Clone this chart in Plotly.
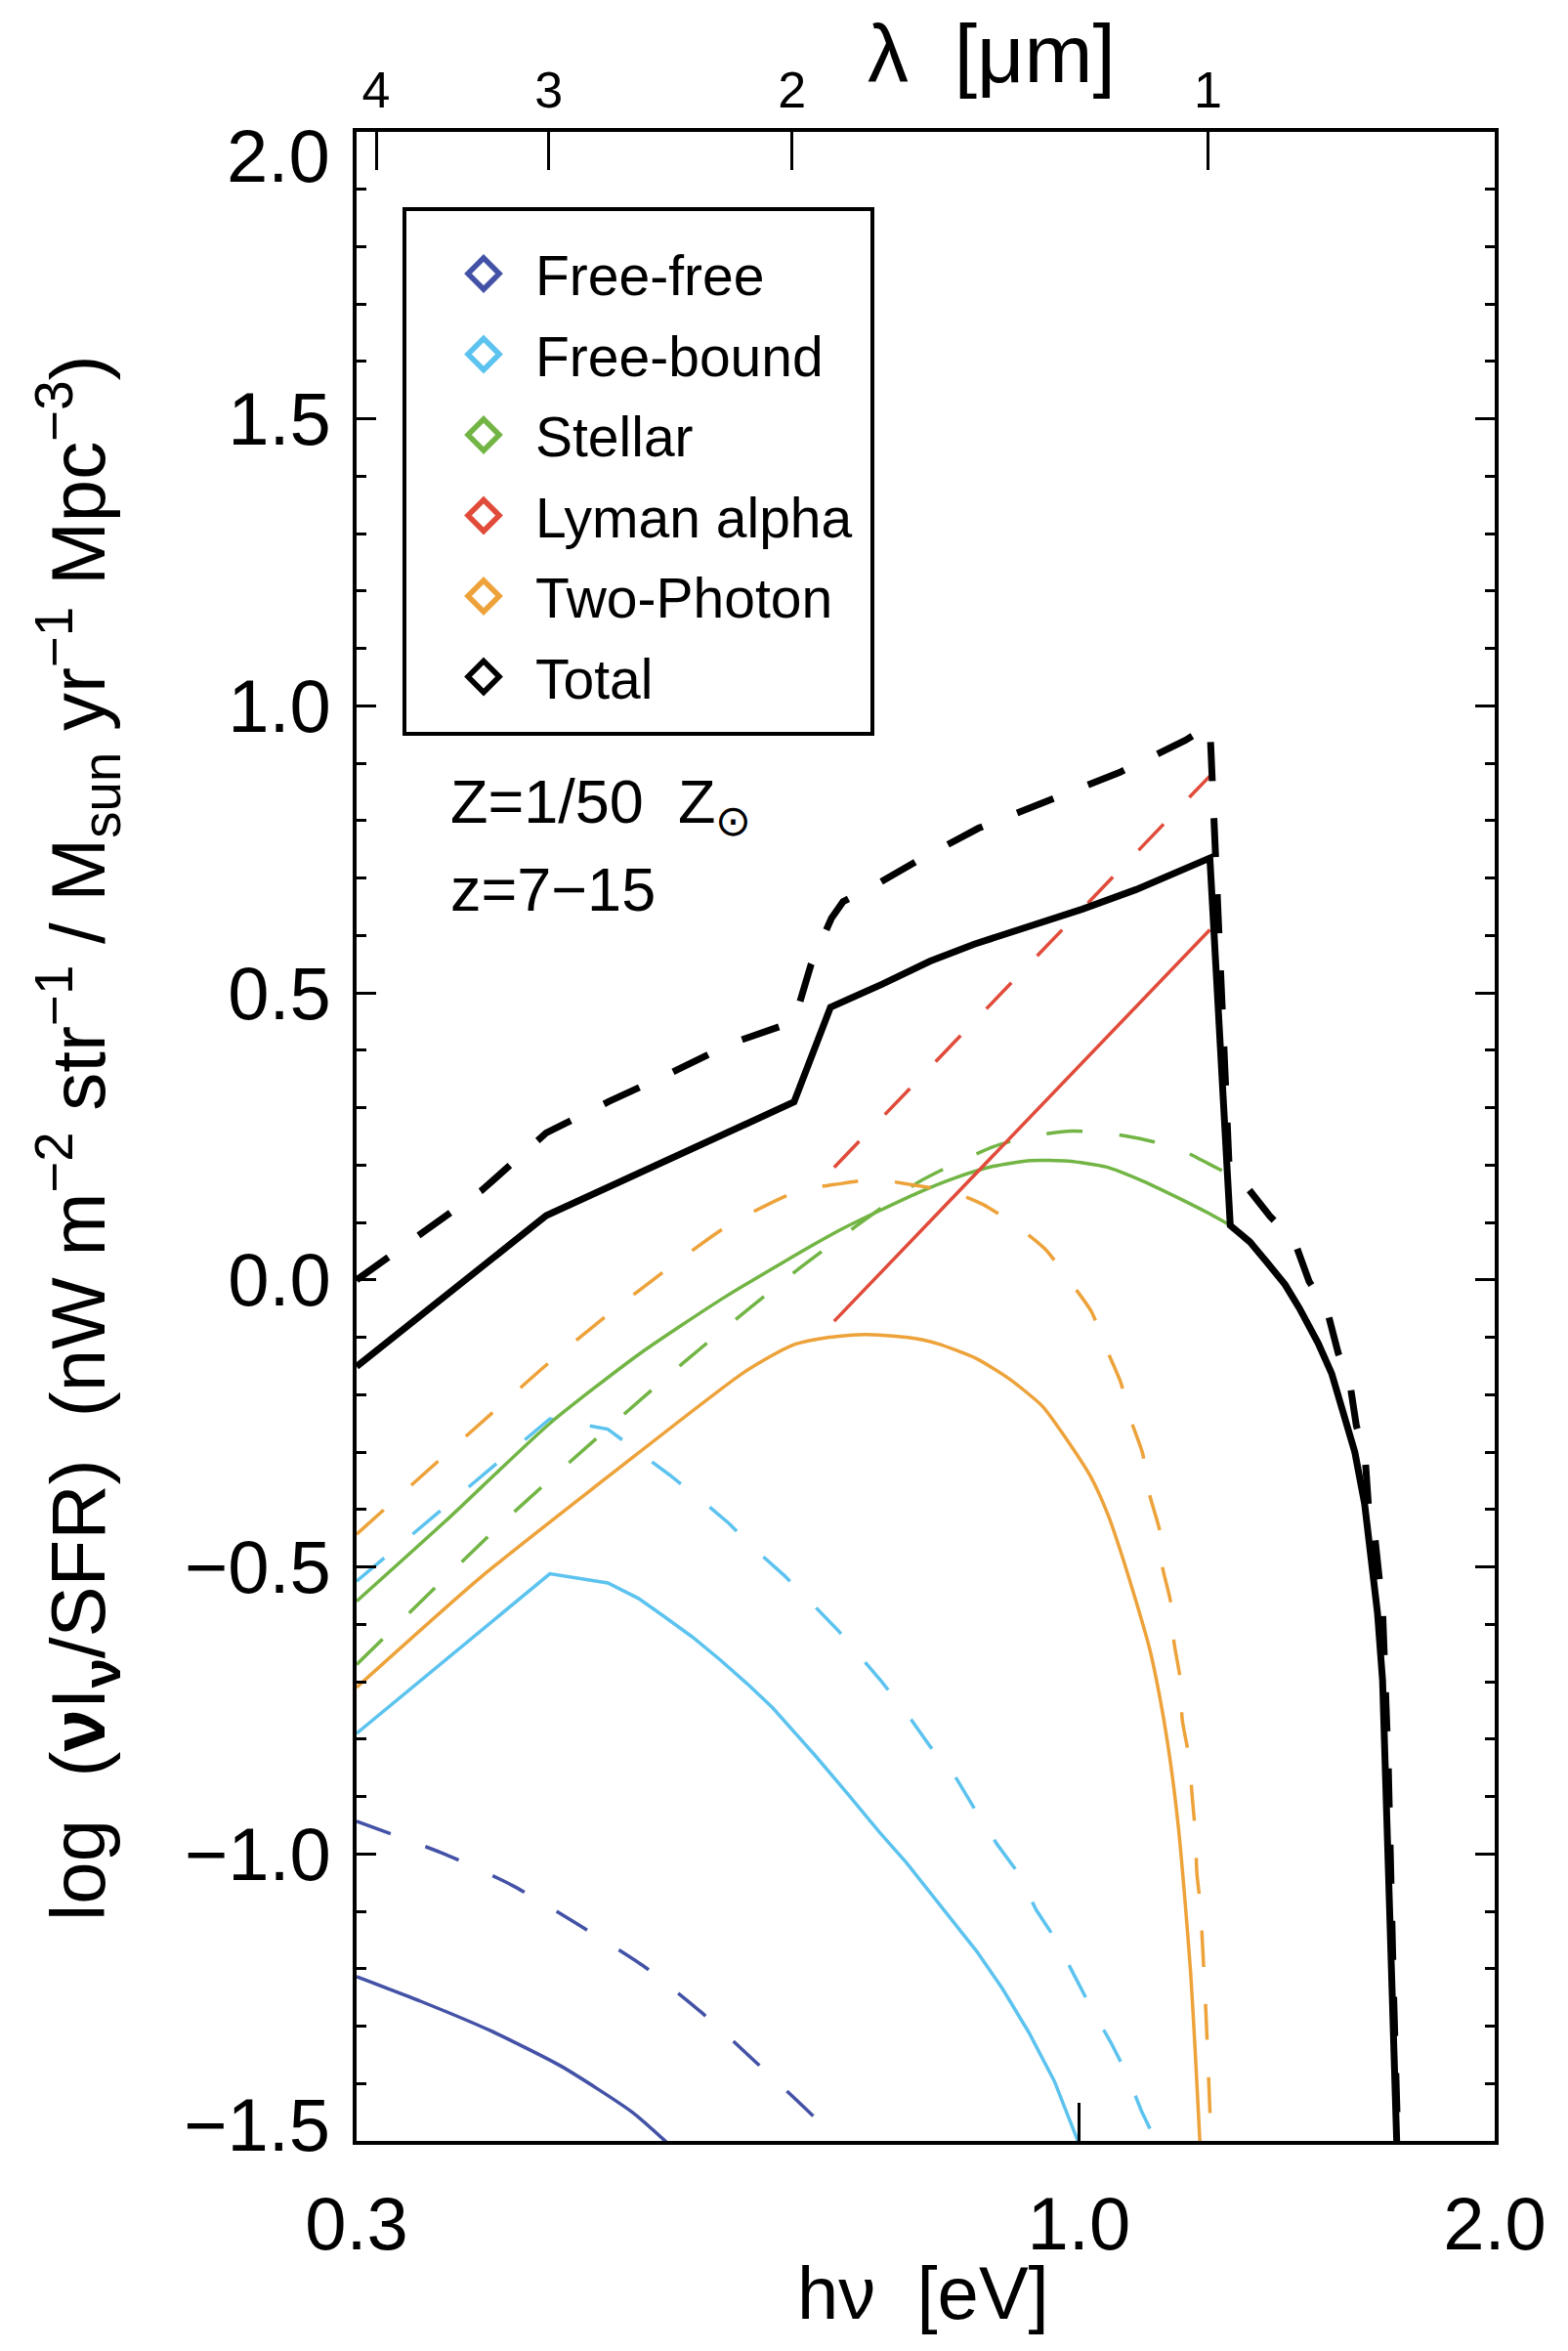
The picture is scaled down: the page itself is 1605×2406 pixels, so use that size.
import plotly.graph_objects as go

# ---------------- data (photon energy h nu in eV, log(nu I_nu / SFR)) ----------------
ff_solid_E = [0.3, 0.334, 0.375, 0.422, 0.475, 0.507]
ff_solid_y = [-1.214, -1.257, -1.308, -1.370, -1.450, -1.51]
ff_dash_E = [0.3, 0.348, 0.389, 0.434, 0.485, 0.533, 0.585, 0.643, 0.672]
ff_dash_y = [-0.943, -1.001, -1.055, -1.123, -1.197, -1.276, -1.365, -1.458, -1.51]

fb_solid_E = [0.3, 0.414, 0.456, 0.48, 0.50, 0.525, 0.55, 0.575, 0.60, 0.644, 0.68, 0.717, 0.75, 0.78,
              0.81, 0.843, 0.88, 0.92, 0.96, 1.002]
fb_solid_y = [-0.79, -0.512, -0.528, -0.555, -0.585, -0.622, -0.662, -0.703, -0.745, -0.828, -0.895, -0.962,
              -1.015, -1.066, -1.115, -1.169, -1.234, -1.311, -1.396, -1.51]
fb_dash_E = [0.3, 0.414, 0.456, 0.48, 0.505, 0.534, 0.558, 0.585, 0.612, 0.641, 0.669, 0.72,
             0.756, 0.78, 0.816, 0.843, 0.873, 0.905, 0.931, 0.962, 0.994, 1.02, 1.055, 1.082, 1.11, 1.142]
fb_dash_y = [-0.525, -0.242, -0.26, -0.300, -0.339, -0.385, -0.424, -0.473, -0.515, -0.564, -0.610, -0.70,
             -0.766, -0.812, -0.870, -0.927, -0.984, -1.035, -1.097, -1.149, -1.216, -1.267, -1.329, -1.381, -1.448, -1.51]

st_solid_E = [0.3, 0.348, 0.414, 0.48, 0.555, 0.669, 0.765, 0.814, 0.867, 0.923, 0.982, 1.046, 1.113, 1.18, 1.244, 1.287]
st_solid_y = [-0.56, -0.42, -0.25, -0.13, -0.029, 0.085, 0.152, 0.178, 0.198, 0.208, 0.207, 0.197, 0.172, 0.143, 0.115, 0.095]
st_dash_E = [0.3, 0.389, 0.518, 0.629, 0.765, 0.814, 0.867, 0.917, 0.982, 1.04, 1.113, 1.18, 1.24, 1.284]
st_dash_y = [-0.67, -0.407, -0.143, 0.022, 0.170, 0.203, 0.232, 0.249, 0.259, 0.257, 0.245, 0.229, 0.203, 0.184]

lya_solid_E = [0.665, 1.244]
lya_solid_y = [-0.072, 0.610]
lya_dash_E = [0.665, 1.244]
lya_dash_y = [0.196, 0.878]

tp_solid_E = [0.3, 0.369, 0.46, 0.573, 0.62, 0.66, 0.70, 0.75, 0.79, 0.843, 0.89, 0.941, 0.98, 1.020, 1.05,
              1.077, 1.10, 1.125, 1.145, 1.163, 1.18, 1.194, 1.205, 1.214, 1.224]
tp_solid_y = [-0.71, -0.518, -0.336, -0.160, -0.114, -0.100, -0.095, -0.100, -0.111, -0.137, -0.172, -0.220,
              -0.278, -0.343, -0.410, -0.488, -0.56, -0.642, -0.73, -0.829, -0.95, -1.087, -1.21, -1.345, -1.51]
tp_dash_E = [0.3, 0.3436, 0.376, 0.414, 0.457, 0.506, 0.56, 0.629, 0.665, 0.713, 0.755, 0.808, 0.853, 0.9,
             0.946, 0.982, 1.021, 1.045, 1.072, 1.089, 1.112, 1.125, 1.144, 1.149, 1.165, 1.172, 1.184, 1.188,
             1.201, 1.208, 1.214, 1.2175, 1.224, 1.236, 1.247]
tp_dash_y = [-0.443, -0.316, -0.232, -0.143, -0.059, 0.023, 0.098, 0.157, 0.166, 0.175, 0.166, 0.154, 0.131, 0.095,
             0.053, 0.002, -0.055, -0.116, -0.178, -0.240, -0.302, -0.374, -0.436, -0.498, -0.560, -0.632, -0.695,
             -0.766, -0.829, -0.901, -0.962, -1.035, -1.087, -1.28, -1.51]

tot_solid_E = [0.3, 0.4115, 0.622, 0.661, 0.72, 0.78, 0.84, 0.92, 1.006, 1.10, 1.18, 1.244, 1.287, 1.33, 1.368,
               1.41, 1.444, 1.49, 1.524, 1.56, 1.584, 1.61, 1.626, 1.645, 1.659, 1.672, 1.686, 1.70]
tot_solid_y = [-0.151, 0.112, 0.310, 0.475, 0.515, 0.555, 0.585, 0.615, 0.646, 0.68, 0.71, 0.735, 0.095, 0.066,
               0.031, -0.008, -0.049, -0.11, -0.163, -0.24, -0.300, -0.39, -0.470, -0.58, -0.698, -0.985, -1.269, -1.53]
tot_dash_E = [0.3, 0.333, 0.37, 0.4115, 0.457, 0.505, 0.56, 0.622, 0.64, 0.662, 0.675, 0.717, 0.765, 0.846, 0.948,
              1.07, 1.194, 1.244, 1.285, 1.316, 1.375, 1.433, 1.468, 1.511, 1.541, 1.571, 1.588, 1.611, 1.62, 1.637,
              1.659, 1.675, 1.69, 1.703]
tot_dash_y = [0.0, 0.078, 0.157, 0.256, 0.311, 0.359, 0.412, 0.45, 0.55, 0.63, 0.659, 0.692, 0.731, 0.787, 0.835,
              0.884, 0.940, 0.966, 0.19, 0.169, 0.111, 0.066, -0.003, -0.049, -0.128, -0.18, -0.254, -0.305, -0.39,
              -0.443, -0.574, -0.85, -1.25, -1.53]

series_names = ["Free-free", "Free-bound", "Stellar", "Lyman alpha", "Two-Photon", "Total"]
series_colors = ["#4352a6", "#5cc3ef", "#72b545", "#e04b3a", "#eda23a", "#000000"]

x_ticks = [0.3, 1.0, 2.0]
x_ticktext = ["0.3", "1.0", "2.0"]
lam_ticks = [4, 3, 2, 1]            # micron
y_ticks = [-1.5, -1.0, -0.5, 0.0, 0.5, 1.0, 1.5, 2.0]
y_ticktext = ["\u22121.5", "\u22121.0", "\u22120.5", "0.0", "0.5", "1.0", "1.5", "2.0"]

HC = 1.2398  # eV micron

# ---------------- figure ----------------
OFF = 8                      # page body margin
W, H = 1605 - 2 * OFF, 2406 - 2 * OFF
L, R, T, B = 365, 1530, 135, 2191   # plot area in page pixels
FONT = "Liberation Sans, Arial, Helvetica, sans-serif"


def px(x):
    return (x - L) / (R - L)


def py(y):
    return (B - y) / (B - T)


fig = go.Figure()

curves = [
    (ff_solid_E, ff_solid_y, 0, "solid", "spline"), (ff_dash_E, ff_dash_y, 0, "dash", "spline"),
    (fb_solid_E, fb_solid_y, 1, "solid", "linear"), (fb_dash_E, fb_dash_y, 1, "dash", "linear"),
    (st_solid_E, st_solid_y, 2, "solid", "spline"), (st_dash_E, st_dash_y, 2, "dash", "spline"),
    (lya_solid_E, lya_solid_y, 3, "solid", "linear"), (lya_dash_E, lya_dash_y, 3, "dash", "linear"),
    (tp_solid_E, tp_solid_y, 4, "solid", "spline"), (tp_dash_E, tp_dash_y, 4, "dash", "spline"),
    (tot_solid_E, tot_solid_y, 5, "solid", "linear"), (tot_dash_E, tot_dash_y, 5, "dash", "linear"),
]
for xe, yv, idx, style, shape in curves:
    black = idx == 5
    fig.add_trace(go.Scatter(
        x=xe, y=yv, mode="lines", showlegend=False, hoverinfo="skip", name=series_names[idx],
        line=dict(color=series_colors[idx], width=7 if black else 3.5, shape=shape,
                  smoothing=0.6 if shape == "spline" else None,
                  dash=("solid" if style == "solid" else ("40px,38px" if black else "37px,38px"))),
    ))

# invisible trace to activate the top axis
fig.add_trace(go.Scatter(x=[], y=[], xaxis="x2", yaxis="y", showlegend=False, hoverinfo="skip"))

axis_common = dict(showgrid=False, zeroline=False, showline=True, linecolor="black", linewidth=4,
                   ticks="inside", tickcolor="black", automargin=False)

y_lab_vals = [v for v in y_ticks if v not in (-1.5, 2.0)]
y_lab_text = [t for v, t in zip(y_ticks, y_ticktext) if v not in (-1.5, 2.0)]

fig.update_layout(
    width=W, height=H,
    margin=dict(l=L - OFF, r=(W + OFF) - R, t=T - OFF, b=(H + OFF) - B, pad=0),
    paper_bgcolor="white", plot_bgcolor="white",
    font=dict(family=FONT, color="black", size=56),
    showlegend=False,
    xaxis=dict(type="log", range=[-0.5228787, 0.30103], tickvals=x_ticks, ticktext=x_ticktext,
               ticklen=39, tickwidth=3, tickfont=dict(size=76), ticklabelstandoff=16, mirror=False,
               **axis_common),
    xaxis2=dict(type="log", range=[-0.5228787, 0.30103], overlaying="x", side="top", anchor="y",
                tickvals=[HC / l for l in lam_ticks], ticktext=[str(l) for l in lam_ticks],
                ticklen=39, tickwidth=3, tickfont=dict(size=52), ticklabelstandoff=0, **axis_common),
    yaxis=dict(range=[-1.5, 2.0], tickvals=y_lab_vals, ticktext=y_lab_text,
               ticklen=20, tickwidth=3,
               tickfont=dict(size=76), ticklabelstandoff=7, mirror="ticks",
               minor=dict(dtick=0.1, tick0=0, ticks="inside", ticklen=10, tickwidth=3, tickcolor="black",
                          showgrid=False),
               **axis_common),
)

ann_font = dict(family=FONT, color="black")

# ---- legend: frame, open diamonds and labels ----
fig.add_shape(type="rect", xref="paper", yref="paper", x0=px(414), x1=px(893), y0=py(214), y1=py(751),
              line=dict(color="black", width=4), fillcolor="rgba(0,0,0,0)", layer="above")
for i, (name, col) in enumerate(zip(series_names, series_colors)):
    row_y = 280 + i * 82.5
    fig.add_shape(type="path", xref="paper", yref="paper", xsizemode="pixel", ysizemode="pixel",
                  xanchor=px(495), yanchor=py(row_y), path="M 0,16 L 16,0 L 0,-16 L -16,0 Z",
                  line=dict(color=col, width=5.5), fillcolor="rgba(0,0,0,0)", layer="above")
    fig.add_annotation(text=name, xref="paper", yref="paper", x=px(546), y=py(row_y + 2), xanchor="left",
                       yanchor="middle", showarrow=False, font=dict(size=57, **ann_font))

# end tick labels of the y axis, kept inside the axis extent as in the original
for v, t in zip(y_ticks, y_ticktext):
    if v == 2.0:
        fig.add_annotation(text=t, xref="paper", yref="paper", x=px(340), y=py(160), xanchor="right",
                           yanchor="middle", showarrow=False, font=dict(size=76, **ann_font))
    elif v == -1.5:
        fig.add_annotation(text=t, xref="paper", yref="paper", x=px(340), y=py(2174), xanchor="right",
                           yanchor="middle", showarrow=False, font=dict(size=76, **ann_font))

fig.add_annotation(text="Z=1/50  Z<sub>\u2299</sub>", xref="paper", yref="paper", x=px(459), y=py(824),
                   xanchor="left", yanchor="middle", showarrow=False, font=dict(size=63, **ann_font))
fig.add_annotation(text="z=7\u221215", xref="paper", yref="paper", x=px(459), y=py(910),
                   xanchor="left", yanchor="middle", showarrow=False, font=dict(size=63, **ann_font))
fig.add_annotation(text="h\u03bd  [eV]", xref="paper", yref="paper", x=px(945), y=py(2346),
                   xanchor="center", yanchor="middle", showarrow=False, font=dict(size=76, **ann_font))
fig.add_annotation(text="\u03bb  [\u03bcm]", xref="paper", yref="paper", x=px(1015), y=py(55),
                   xanchor="center", yanchor="middle", showarrow=False, font=dict(size=84, **ann_font))
fig.add_annotation(
    text="log  (<b>\u03bd</b>I<sub><b>\u03bd</b></sub>/SFR)  (nW m<sup>\u22122</sup> str<sup>\u22121</sup> / "
         "M<sub>sun</sub> yr<sup>\u22121</sup> Mpc<sup>\u22123</sup>)",
    xref="paper", yref="paper", x=px(80), y=py(1165), xanchor="center", yanchor="middle",
    textangle=-90, showarrow=False, font=dict(size=78, **ann_font))

fig.write_html("out.html")
